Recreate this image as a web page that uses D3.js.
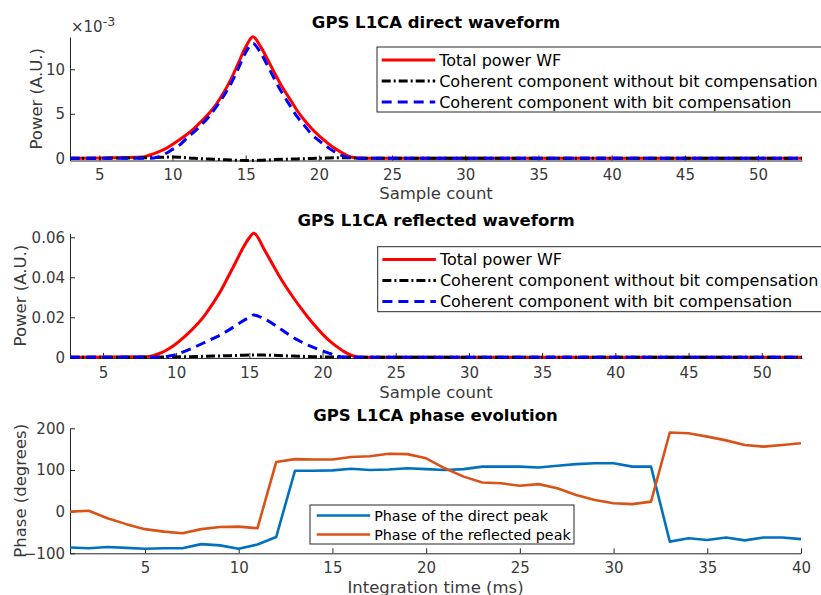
<!DOCTYPE html>
<html>
<head>
<meta charset="utf-8">
<script src="https://cdn.jsdelivr.net/npm/d3@7"></script>
<style>
	body { margin: 0; background: #fff; }
	svg { display: block; font-family: "DejaVu Sans", sans-serif; }
	.axis path, .axis line { stroke: #262626; }
	.axis text { fill: #3a3a3a; font-size: 15px; font-family: "DejaVu Sans", sans-serif; }
	.title { font-weight: bold; font-size: 16.5px; fill: #000; }
	.label { font-size: 16.5px; fill: #3a3a3a; }
	.legend text { fill: #000; }
</style>
</head>
<body>
<svg id="chart" width="821" height="595"></svg>
<script>
// ---- data ----

// direct waveform, power in units of 1e-3
const directSamples = [3, 8, 8.5, 9, 9.5, 10, 10.5, 11, 11.5, 12, 12.5, 13, 13.5, 14, 14.5, 15, 15.5, 16, 16.5, 17, 17.5, 18, 18.5, 19, 19.5, 20, 20.5, 21, 21.5, 22, 22.5, 23, 53];
const directTotal = [0, 0.15, 0.4, 0.7, 1.05, 1.55, 2.1, 2.7, 3.4, 4.2, 5.05, 6.1, 7.4, 8.9, 10.7, 12.5, 13.65, 12.6, 11.1, 9.5, 8.0, 6.7, 5.4, 4.3, 3.35, 2.55, 1.85, 1.2, 0.7, 0.25, 0.05, 0, 0];
const directNoBit = [0, 0.05, 0.08, 0.1, 0.12, 0.15, 0.12, 0.05, 0, -0.05, -0.08, -0.12, -0.16, -0.2, -0.23, -0.25, -0.25, -0.22, -0.19, -0.15, -0.12, -0.1, -0.07, -0.05, -0.02, 0, 0.02, 0.05, 0.05, 0.05, 0.03, 0, 0];
const directBit = [0, 0, 0, 0.15, 0.5, 1.0, 1.5, 2.3, 3.0, 3.8, 4.7, 5.8, 7.0, 8.4, 10.1, 11.9, 12.9, 11.9, 10.4, 8.8, 7.3, 6.0, 4.7, 3.7, 2.7, 2.0, 1.35, 0.8, 0.35, 0.1, 0, 0, 0];

// reflected waveform, power in units of 1e-3
const reflectedSamples = [2.75, 8, 8.5, 9, 9.5, 10, 10.5, 11, 11.5, 12, 12.5, 13, 13.5, 14, 14.5, 15, 15.3, 16, 16.5, 17, 17.5, 18, 18.5, 19, 19.5, 20, 20.5, 21, 21.5, 22, 22.5, 23, 52.75];
const reflectedTotal = [0, 0.3, 1.0, 2.3, 4.3, 6.8, 9.8, 13.2, 17.0, 21.5, 26.8, 32.6, 39.5, 46.5, 53.8, 59.8, 62.0, 54.2, 47.6, 41.2, 35.3, 29.9, 24.8, 20.0, 15.6, 11.6, 8.1, 5.2, 2.7, 0.9, 0.15, 0, 0];
const reflectedNoBit = [0, 0, 0.05, 0.1, 0.15, 0.2, 0.25, 0.3, 0.4, 0.5, 0.6, 0.7, 0.8, 0.9, 1.0, 1.1, 1.2, 1.1, 1.0, 0.9, 0.75, 0.6, 0.5, 0.4, 0.3, 0.2, 0.15, 0.1, 0.05, 0, 0, 0, 0];
const reflectedBit = [0, 0, 0, 0.1, 0.6, 1.4, 2.7, 4.2, 5.9, 7.6, 9.3, 11.1, 13.2, 15.5, 17.9, 20.0, 21.2, 19.3, 17.3, 14.8, 12.3, 9.9, 7.9, 6.1, 4.6, 3.2, 1.9, 0.6, 0.1, 0, 0, 0, 0];

// phase evolution, degrees
const integrationTime = [1, 2, 3, 4, 5, 6, 7, 8, 9, 10, 11, 12, 13, 14, 15, 16, 17, 18, 19, 20, 21, 22, 23, 24, 25, 26, 27, 28, 29, 30, 31, 32, 33, 34, 35, 36, 37, 38, 39, 40];
const directPhase = [-86, -88, -85, -87, -89, -88, -88, -78, -81, -89, -79, -61, 98, 98, 99, 103, 100, 101, 104, 102, 100, 102, 108, 108, 108, 106, 110, 114, 116, 116, 108, 108, -72, -64, -68, -62, -69, -62, -62, -66];
const reflectedPhase = [0, 2, -16, -30, -42, -48, -52, -42, -37, -36, -40, 119, 126, 125, 125, 131, 133, 139, 138, 128, 104, 84, 70, 68, 62, 66, 56, 40, 28, 20, 18, 24, 190, 188, 180, 171, 160, 156, 160, 164];

const waveformLegend = ['Total power WF', 'Coherent component without bit compensation', 'Coherent component with bit compensation'];
const phaseLegend = ['Phase of the direct peak', 'Phase of the reflected peak'];

const sampleTicks = [5, 10, 15, 20, 25, 30, 35, 40, 45, 50];
const timeTicks = [5, 10, 15, 20, 25, 30, 35, 40];


let svg = d3.select('#chart');


/**
* draw one subplot: axes, lines, title, labels and legend
* @param {object} p panel settings
* @returns {undefined}
*/
function drawPanel(p) {
	let x = d3.scaleLinear().domain(p.xDomain).range([p.left, p.right]),
		y = d3.scaleLinear().domain(p.yDomain).range([p.bottom, p.top]);

	// axes, ticks pointing inwards like matlab
	svg.append('g')
		.attr('class', 'axis')
		.attr('transform', 'translate(0,' + p.bottom + ')')
		.call(d3.axisBottom(x).tickValues(p.xTicks).tickSizeInner(-5).tickSizeOuter(0).tickPadding(9));

	svg.append('g')
		.attr('class', 'axis')
		.attr('transform', 'translate(' + p.left + ',0)')
		.call(d3.axisLeft(y).tickValues(p.yTicks).tickFormat(p.yFormat).tickSizeInner(-5).tickSizeOuter(0).tickPadding(5));

	// series
	let line = d3.line()
		.x(d => x(d[0]))
		.y(d => y(d[1]));

	p.series.forEach(s => {
		let pts = p.xs.map((v, i) => [v, s.values[i]]);
		svg.append('path')
			.attr('d', line.curve(s.curve || d3.curveLinear)(pts))
			.attr('fill', 'none')
			.attr('stroke', s.color)
			.attr('stroke-width', s.width)
			.attr('stroke-dasharray', s.dash || null)
			.attr('stroke-linejoin', 'round');
	});

	// title and axis labels
	svg.append('text')
		.attr('class', 'title')
		.attr('x', (p.left + p.right) / 2)
		.attr('y', p.titleY)
		.attr('text-anchor', 'middle')
		.text(p.title);

	svg.append('text')
		.attr('class', 'label')
		.attr('x', (p.left + p.right) / 2)
		.attr('y', p.xLabelY)
		.attr('text-anchor', 'middle')
		.text(p.xLabel);

	svg.append('text')
		.attr('class', 'label')
		.attr('transform', 'translate(' + p.yLabelX + ',' + ((p.top + p.bottom) / 2) + ') rotate(-90)')
		.attr('text-anchor', 'middle')
		.attr('dominant-baseline', 'central')
		.text(p.yLabel);

	// legend box
	let lg = p.legend,
		g = svg.append('g').attr('class', 'legend');

	g.append('rect')
		.attr('x', lg.x)
		.attr('y', lg.y)
		.attr('width', lg.w)
		.attr('height', lg.h)
		.attr('fill', '#fff')
		.attr('stroke', '#262626')
		.attr('stroke-width', 1);

	lg.labels.forEach((txt, i) => {
		let s = p.series[i],
			cy = lg.firstRow + i * lg.rowGap;
		g.append('line')
			.attr('x1', lg.x + lg.pad)
			.attr('x2', lg.x + lg.pad + 53.5)
			.attr('y1', cy)
			.attr('y2', cy)
			.attr('stroke', s.color)
			.attr('stroke-width', s.width)
			.attr('stroke-dasharray', s.dash || null);
		g.append('text')
			.attr('x', lg.x + lg.pad + 57.5)
			.attr('y', cy)
			.attr('dominant-baseline', 'central')
			.attr('font-size', lg.fontSize)
			.text(txt);
	});

	return {x: x, y: y};
}


// waveform panels share most settings
const redStyle = {color: '#ff0000', width: 3, curve: d3.curveMonotoneX},
	blackStyle = {color: '#000000', width: 3, dash: '9,3,2,3', curve: d3.curveMonotoneX},
	blueStyle = {color: '#0000ff', width: 3, dash: '10,6', curve: d3.curveMonotoneX};

drawPanel({
	left: 70, right: 802, top: 37, bottom: 160.5,
	xDomain: [3, 53], yDomain: [-0.25, 13.63],
	xTicks: sampleTicks, yTicks: [0, 5, 10], yFormat: d3.format('d'),
	xs: directSamples,
	series: [
		Object.assign({values: directTotal}, redStyle),
		Object.assign({values: directNoBit}, blackStyle),
		Object.assign({values: directBit}, blueStyle)
	],
	title: 'GPS L1CA direct waveform', titleY: 28,
	xLabelY: 198.5, xLabel: 'Sample count',
	yLabel: 'Power (A.U.)', yLabelX: 36,
	legend: {x: 377, y: 47, w: 460, h: 65, pad: 4.7, firstRow: 60, rowGap: 21, fontSize: 16, labels: waveformLegend}
});

// exponent marker of the direct waveform y axis
svg.append('text')
	.attr('class', 'label')
	.attr('x', 71)
	.attr('y', 32)
	.html('<tspan font-size="15">×10</tspan><tspan font-size="12.5" dy="-6">-3</tspan>');

drawPanel({
	left: 70, right: 802, top: 233.3, bottom: 357.9,
	xDomain: [2.75, 52.75], yDomain: [-0.3, 62],
	xTicks: sampleTicks, yTicks: [0, 20, 40, 60], yFormat: d => d === 0 ? '0' : d3.format('.2f')(d / 1000),
	xs: reflectedSamples,
	series: [
		Object.assign({values: reflectedTotal}, redStyle),
		Object.assign({values: reflectedNoBit}, blackStyle),
		Object.assign({values: reflectedBit}, blueStyle)
	],
	title: 'GPS L1CA reflected waveform', titleY: 226,
	xLabelY: 397.5, xLabel: 'Sample count',
	yLabel: 'Power (A.U.)', yLabelX: 20,
	legend: {x: 377.7, y: 246.7, w: 460, h: 65, pad: 4.7, firstRow: 259.5, rowGap: 21, fontSize: 16, labels: waveformLegend}
});

drawPanel({
	left: 70, right: 801, top: 428.3, bottom: 553.3,
	xDomain: [1, 40], yDomain: [-100, 200],
	xTicks: timeTicks, yTicks: [-100, 0, 100, 200], yFormat: d3.format('d'),
	xs: integrationTime,
	series: [
		{values: directPhase, color: '#0072bd', width: 2.6},
		{values: reflectedPhase, color: '#d95319', width: 2.6}
	],
	title: 'GPS L1CA phase evolution', titleY: 421,
	xLabelY: 592.5, xLabel: 'Integration time (ms)',
	yLabel: 'Phase (degrees)', yLabelX: 20,
	legend: {x: 310, y: 505, w: 264, h: 39, pad: 6.7, firstRow: 515.5, rowGap: 19, fontSize: 14.3, labels: phaseLegend}
});
</script>
</body>
</html>
